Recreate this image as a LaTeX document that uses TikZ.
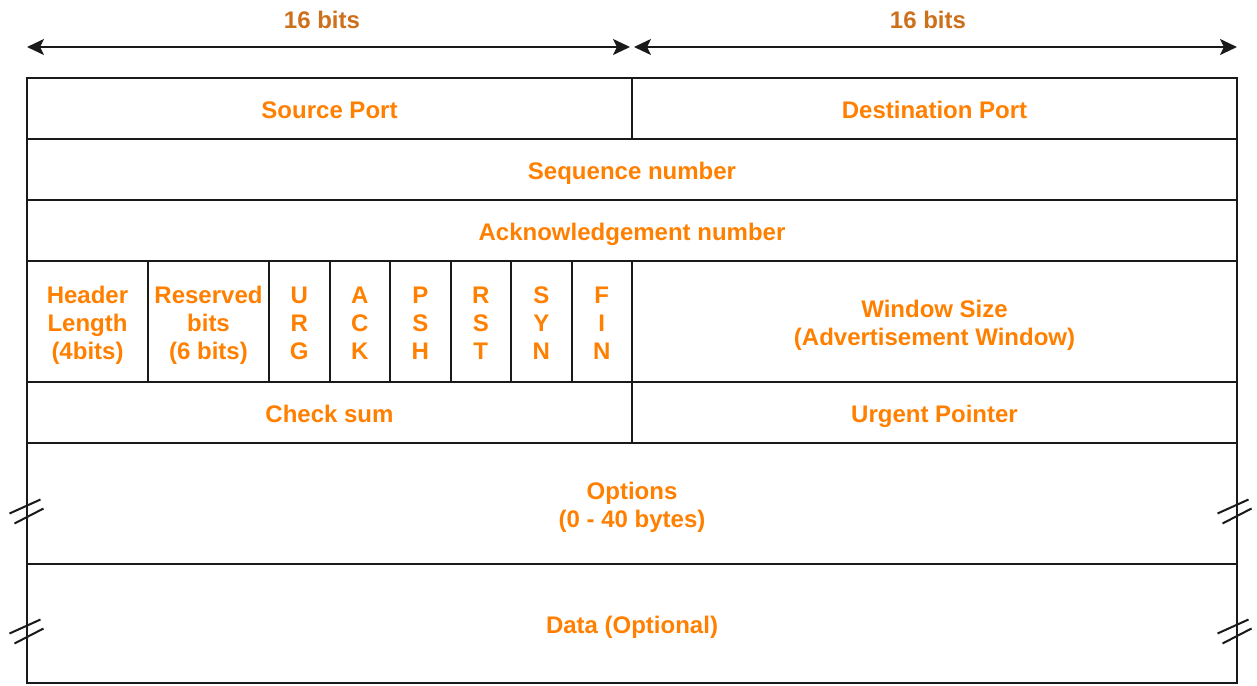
\documentclass[tikz,border=0pt]{standalone}
\usepackage{fontspec}
\setmainfont{Liberation Sans}
\usepackage{xcolor}
\usepackage{tikz}
\usetikzlibrary{arrows.meta,positioning,calc}
\definecolor{fldc}{HTML}{FF8000}
\definecolor{bitc}{HTML}{CC701C}
\definecolor{ink}{HTML}{1A1A1A}
\newcommand{\fldfont}{\fontsize{24}{28}\selectfont\bfseries}
% field text: stacked lines, set a little low in the cell
\newcommand{\fld}[1]{\raisebox{-4.5pt}[\height][\depth]{\begin{tabular}{@{}c@{}}#1\end{tabular}}}
\tikzset{
  cell/.style 2 args={draw=ink,line width=2pt,minimum width=#1,minimum height=#2,inner sep=0pt,outer sep=0pt,
              anchor=north west,text=fldc,font=\fldfont},
  dim/.style={{Stealth[length=17pt,width=16pt,inset=4pt]}-{Stealth[length=17pt,width=16pt,inset=4pt]},line width=2pt,draw=ink},
  bitlbl/.style={font=\fldfont,text=bitc,inner sep=0pt},
  brk/.style={line width=2pt,draw=ink},
}
\begin{document}
\begin{tikzpicture}[x=1pt,y=-1pt]
  \useasboundingbox (0,0) rectangle (1257,685);
  % width markers
  \coordinate (wl) at (27,47);
  \coordinate (wm) at (632,47);
  \coordinate (wr) at (1237,47);
  \draw[dim,shorten >=2pt] (wl) -- (wm);
  \draw[dim,shorten <=2pt] (wm) -- (wr);
  \node[bitlbl] (b1) at (322,20) {16 bits};
  \node[bitlbl] (b2) at (928,20) {16 bits};
  % header rows
  \node[cell={605pt}{61pt}] (src) at (27,78) {\fld{Source Port}};
  \node[cell={605pt}{61pt}] (dst) at (632,78) {\fld{Destination Port}};
  \node[cell={1210pt}{61pt}] (seq) at (27,139) {\fld{Sequence number}};
  \node[cell={1210pt}{61pt}] (ack) at (27,200) {\fld{Acknowledgement number}};
  \node[cell={121pt}{121pt}] (hlen) at (27,261) {\fld{Header\\Length\\(4bits)}};
  \node[cell={121pt}{121pt}] (rsv) at (148,261) {\fld{Reserved\\bits\\(6 bits)}};
  \foreach \lbl [count=\i] in {{U\\R\\G},{A\\C\\K},{P\\S\\H},{R\\S\\T},{S\\Y\\N},{F\\I\\N}}
    \node[cell={60.5pt}{121pt}] (flag\i) at ({269+(\i-1)*60.5},261) {\fld{\lbl}};
  \node[cell={605pt}{121pt}] (win) at (632,261) {\fld{Window Size\\(Advertisement Window)}};
  \node[cell={605pt}{61pt}] (chk) at (27,382) {\fld{Check sum}};
  \node[cell={605pt}{61pt}] (urg) at (632,382) {\fld{Urgent Pointer}};
  \node[cell={1210pt}{121pt}] (opt) at (27,443) {\fld{Options\\(0 - 40 bytes)}};
  \node[cell={1210pt}{119pt}] (dat) at (27,564) {\fld{Data (Optional)}};
  % break marks
  \foreach \n in {opt,dat}{
    \foreach \a/\dx in {west/0,east/-2}{
      \draw[brk] ($(\n.\a)+(\dx,8)+(-17.5,2)$) -- ++(31,-14);
      \draw[brk] ($(\n.\a)+(\dx,8)+(-12.5,12)$) -- ++(29,-15);
    }
  }
\end{tikzpicture}
\end{document}
